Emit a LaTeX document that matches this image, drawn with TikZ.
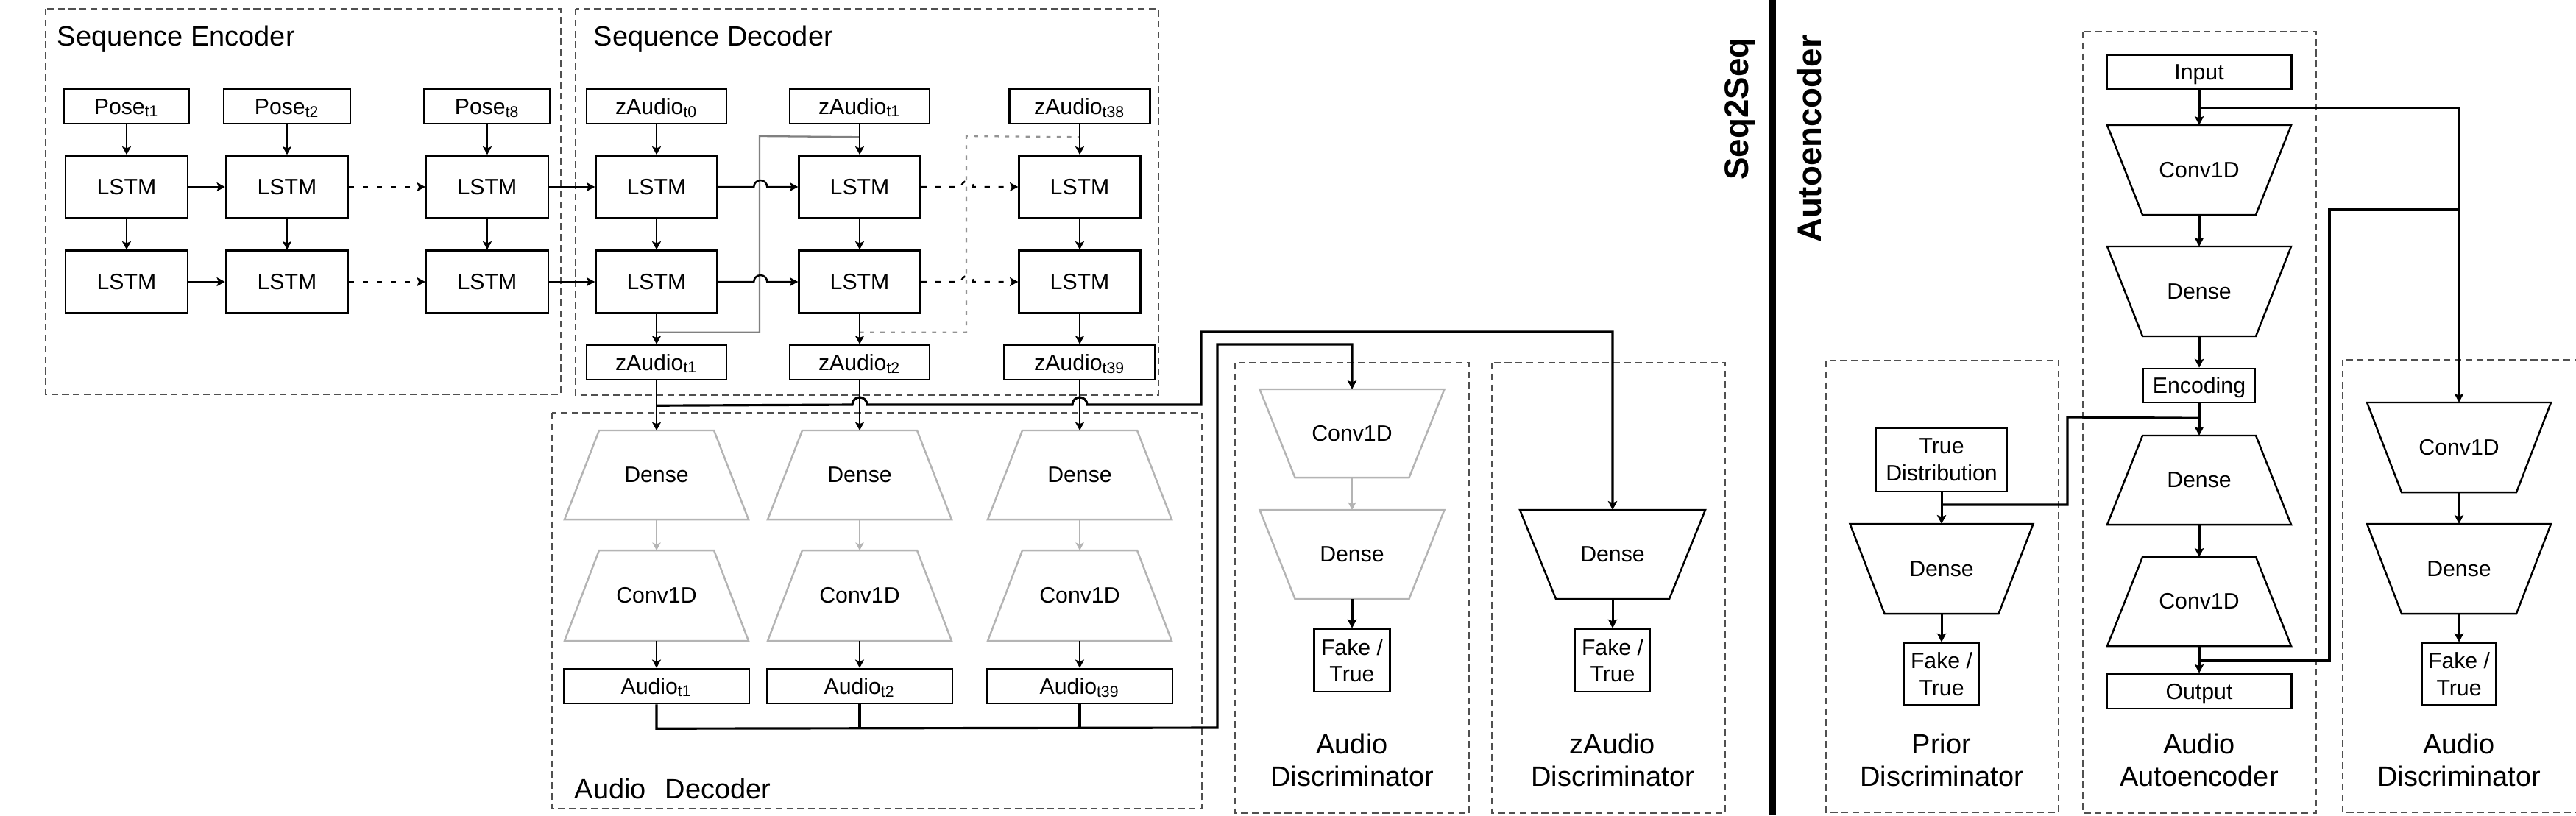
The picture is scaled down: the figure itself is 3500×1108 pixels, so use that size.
\documentclass[tikz,border=0pt]{standalone}
\usepackage{fontspec}
\setmainfont{Liberation Sans}
\usetikzlibrary{arrows.meta,calc}
\definecolor{dgray}{HTML}{505050}
\definecolor{mgray}{HTML}{808080}
\definecolor{lgray}{HTML}{B4B4B4}
\newcommand{\fsN}{\fontsize{8.6}{10.4}\selectfont}
\newcommand{\fsT}{\fontsize{10.8}{12.5}\selectfont}
\newcommand{\fsB}{\fontsize{13}{15}\selectfont\bfseries}
% name, cx, cy, half top width, half bottom width, half height, text, style
\newcommand{\trapz}[8]{%
  \draw[#8] ({#2-#4},{#3-#6}) -- ({#2+#4},{#3-#6}) -- ({#2+#5},{#3+#6}) -- ({#2-#5},{#3+#6}) -- cycle;
  \node[lbl] (#1) at (#2,#3) {#7};
  \coordinate (#1n) at (#2,{#3-#6});
  \coordinate (#1s) at (#2,{#3+#6});
}
\tikzset{
  box/.style={draw, line width=0.7pt, fill=white, inner sep=0pt, font=\fsN, text height=6.1pt, text depth=0pt},
  box2/.style={draw, line width=0.7pt, fill=white, inner sep=0pt, font=\fsN, align=center},
  sz/.style 2 args={minimum width=#1*0.01cm, minimum height=#2*0.01cm},
  lbl/.style={inner sep=0pt, font=\fsN},
  grp/.style={draw=dgray, line width=0.4pt, dash pattern=on 2.6pt off 1.6pt},
  ttl/.style={inner sep=0pt, font=\fsT, anchor=base west},
  dlbl/.style={inner sep=0pt, font=\fsT, align=center, anchor=north},
  ltrap/.style={draw=lgray, line width=0.7pt, fill=white},
  btrap/.style={draw=black, line width=0.7pt, fill=white},
  arr/.style={line width=0.7pt, -{Stealth[length=3.2pt,width=3.4pt,inset=0.7pt]}},
  arrd/.style={arr, dash pattern=on 2pt off 3.4pt},
  arr2/.style={line width=0.85pt, -{Stealth[length=3.4pt,width=3.5pt,inset=0.7pt]}},
  garr/.style={line width=0.6pt, draw=lgray, -{Stealth[length=3pt,width=3.2pt,inset=0.7pt,fill=lgray]}},
  gl/.style={line width=0.65pt, draw=mgray},
  gld/.style={line width=0.65pt, draw=mgray!85, dash pattern=on 1.6pt off 2.4pt},
  bus/.style={line width=0.9pt},
  busarr/.style={line width=0.9pt, -{Stealth[length=3.4pt,width=3.5pt,inset=0.7pt]}},
}
\begin{document}
\begin{tikzpicture}[x=0.01cm, y=-0.01cm]
\useasboundingbox (0,0) rectangle (3500,1108);

% ---------- group boxes ----------
\draw[grp] (62,12) rectangle (762,536);
\draw[grp] (782,12) rectangle (1574,537);
\draw[grp] (750,561) rectangle (1633,1099);
\draw[grp] (1678,493) rectangle (1996,1105);
\draw[grp] (2027,493) rectangle (2344,1105);
\draw[grp] (2481,490) rectangle (2797,1104);
\draw[grp] (2830,43) rectangle (3147,1105);
\draw[grp] (3183,489) rectangle (3520,1104);

\node[ttl] (tenc) at (77,62) {Sequence Encoder};
\node[ttl] (tdec) at (806,62) {Sequence Decoder};
\node[ttl] (tadec) at (780,1085) {Audio\hspace{0.68em}Decoder};

% ---------- Sequence Encoder ----------
\node[box, sz={170}{47}] (p1) at (172,144.5) {Pose\textsubscript{t1}};
\node[box, sz={172}{47}] (p2) at (390,144.5) {Pose\textsubscript{t2}};
\node[box, sz={171}{47}] (p3) at (662,144.5) {Pose\textsubscript{t8}};
\node[box, sz={166}{85}] (e11) at (172,254) {LSTM};
\node[box, sz={166}{85}] (e12) at (390,254) {LSTM};
\node[box, sz={166}{85}] (e13) at (662,254) {LSTM};
\node[box, sz={166}{85}] (e21) at (172,383) {LSTM};
\node[box, sz={166}{85}] (e22) at (390,383) {LSTM};
\node[box, sz={166}{85}] (e23) at (662,383) {LSTM};

\draw[arr] (p1.south) -- (e11.north);
\draw[arr] (p2.south) -- (e12.north);
\draw[arr] (p3.south) -- (e13.north);
\draw[arr] (e11.south) -- (e21.north);
\draw[arr] (e12.south) -- (e22.north);
\draw[arr] (e13.south) -- (e23.north);
\draw[arr] (e11.east) -- (e12.west);
\draw[arr] (e21.east) -- (e22.west);
\draw[arrd] (e12.east) -- (e13.west);
\draw[arrd] (e22.east) -- (e23.west);

% ---------- Sequence Decoder ----------
\node[box, sz={190}{47}] (zt1) at (892,144.5) {zAudio\textsubscript{t0}};
\node[box, sz={190}{47}] (zt2) at (1168,144.5) {zAudio\textsubscript{t1}};
\node[box, sz={191}{47}] (zt3) at (1467,144.5) {zAudio\textsubscript{t38}};
\node[box, sz={165}{85}] (d11) at (892,254) {LSTM};
\node[box, sz={165}{85}] (d12) at (1168,254) {LSTM};
\node[box, sz={165}{85}] (d13) at (1467,254) {LSTM};
\node[box, sz={165}{85}] (d21) at (892,383) {LSTM};
\node[box, sz={165}{85}] (d22) at (1168,383) {LSTM};
\node[box, sz={165}{85}] (d23) at (1467,383) {LSTM};
\node[box, sz={190}{47}] (zb1) at (892,492.5) {zAudio\textsubscript{t1}};
\node[box, sz={190}{47}] (zb2) at (1168,492.5) {zAudio\textsubscript{t2}};
\node[box, sz={205}{47}] (zb3) at (1467,492.5) {zAudio\textsubscript{t39}};

% feedback lines (gray)
\draw[gl] ($(d21.south)+(0,25)$) -| (1032,185) -- ($(zt2.south)+(0,17)$);
\draw[gld] ($(d22.south)+(0,25)$) -| (1313,185) -- ($(zt3.south)+(0,17)$);

\draw[arr] (e13.east) -- (d11.west);
\draw[arr] (e23.east) -- (d21.west);
\draw[arr] (zt1.south) -- (d11.north);
\draw[arr] (zt2.south) -- (d12.north);
\draw[arr] (zt3.south) -- (d13.north);
\draw[arr] (d11.south) -- (d21.north);
\draw[arr] (d12.south) -- (d22.north);
\draw[arr] (d13.south) -- (d23.north);
\draw[arr] (d21.south) -- (zb1.north);
\draw[arr] (d22.south) -- (zb2.north);
\draw[arr] (d23.south) -- (zb3.north);
\draw[arr] (d11.east) -- ++(48.5,0) arc[start angle=180,end angle=0,radius=0.09cm] -- (d12.west);
\draw[arr] (d21.east) -- ++(48.5,0) arc[start angle=180,end angle=0,radius=0.09cm] -- (d22.west);
\draw[arrd] (d12.east) -- ++(54.5,0) arc[start angle=180,end angle=0,radius=0.08cm] -- (d13.west);
\draw[arrd] (d22.east) -- ++(54.5,0) arc[start angle=180,end angle=0,radius=0.08cm] -- (d23.west);

% ---------- Audio Decoder ----------
\trapz{ad1}{892}{645.5}{78}{125}{60.5}{Dense}{ltrap}
\trapz{ad2}{1168}{645.5}{78}{125}{60.5}{Dense}{ltrap}
\trapz{ad3}{1467}{645.5}{78}{125}{60.5}{Dense}{ltrap}
\trapz{ac1}{892}{809.5}{78}{125}{61.5}{Conv1D}{ltrap}
\trapz{ac2}{1168}{809.5}{78}{125}{61.5}{Conv1D}{ltrap}
\trapz{ac3}{1467}{809.5}{78}{125}{61.5}{Conv1D}{ltrap}
\node[box, sz={252}{47}] (au1) at (892,932.5) {Audio\textsubscript{t1}};
\node[box, sz={252}{47}] (au2) at (1168,932.5) {Audio\textsubscript{t2}};
\node[box, sz={252}{47}] (au3) at (1467,932.5) {Audio\textsubscript{t39}};

\draw[arr] (zb1.south) -- (ad1n);
\draw[arr] (zb2.south) -- (ad2n);
\draw[arr] (zb3.south) -- (ad3n);
\draw[garr] (ad1s) -- (ac1n);
\draw[garr] (ad2s) -- (ac2n);
\draw[garr] (ad3s) -- (ac3n);
\draw[arr] (ac1s) -- (au1.north);
\draw[arr] (ac2s) -- (au2.north);
\draw[arr] (ac3s) -- (au3.north);

% ---------- Audio Discriminator ----------
\trapz{dc}{1837}{589}{125.5}{77.5}{60}{Conv1D}{ltrap}
\trapz{dd}{1837}{753.5}{125.5}{77.5}{60.5}{Dense}{ltrap}
\node[box2, sz={103}{85}] (dft) at (1837,897.5) {Fake /\\True};
\node[dlbl] (dlab) at (1837,996) {Audio\\Discriminator};
\draw[garr] (dcs) -- (ddn);
\draw[arr2] (dds) -- (dft.north);

% ---------- zAudio Discriminator ----------
\trapz{zd}{2191}{753.5}{126}{77}{60.5}{Dense}{btrap}
\node[box2, sz={102}{85}] (zft) at (2191,897.5) {Fake /\\True};
\node[dlbl] (zlab) at (2191,996) {zAudio\\Discriminator};
\draw[arr2] (zds) -- (zft.north);

% ---------- buses Seq2Seq ----------
\coordinate (j1) at ($(zb1.south)+(0,34)$);
\draw[busarr] (j1) -- (1158,550) arc[start angle=180,end angle=0,radius=0.1cm] -- (1457,550) arc[start angle=180,end angle=0,radius=0.1cm] -- (1632,550) -- (1632,451) -| (zdn);
\coordinate (j2) at ($(au1.south)+(0,33)$);
\draw[busarr] (au1.south) -- (j2) -- (1654,989) -- (1654,468) -| (dcn);
\draw[bus] (au2.south) -- (au2.south |- j2);
\draw[bus] (au3.south) -- (au3.south |- j2);

% ---------- divider and headings ----------
\coordinate (dv1) at (2408,0);
\coordinate (dv2) at (2408,1108);
\draw[line width=2.6pt] (dv1) -- (dv2);
\node[rotate=90, font=\fsB, inner sep=0pt] (s2s) at (2364,148) {Seq2Seq};
\node[rotate=90, font=\fsB, inner sep=0pt] (aeh) at (2458,189) {Autoencoder};

% ---------- Prior Discriminator ----------
\node[box2, sz={178}{86}] (td) at (2638,625) {True\\Distribution};
\trapz{pd}{2638}{773}{124.5}{77.5}{61}{Dense}{btrap}
\node[box2, sz={102}{84}] (pft) at (2638,916) {Fake /\\True};
\node[dlbl] (plab) at (2638,996) {Prior\\Discriminator};
\draw[arr2] (td.south) -- (pdn);
\draw[arr2] (pds) -- (pft.north);

% ---------- Audio Autoencoder ----------
\node[box, sz={251}{46}] (inp) at (2988,98) {Input};
\trapz{a1}{2988}{231}{125}{77}{61}{Conv1D}{btrap}
\trapz{a2}{2988}{396}{125}{77}{61}{Dense}{btrap}
\node[box, sz={152}{46}] (enc) at (2988,524) {Encoding};
\trapz{a3}{2988}{652.5}{77}{125}{60.5}{Dense}{btrap}
\trapz{a4}{2988}{817.5}{77}{125}{60.5}{Conv1D}{btrap}
\node[box, sz={251}{47}] (out) at (2988,939.5) {Output};
\node[dlbl] (alab) at (2988,996) {Audio\\Autoencoder};
\draw[arr2] (inp.south) -- (a1n);
\draw[arr2] (a1s) -- (a2n);
\draw[arr2] (a2s) -- (enc.north);
\draw[arr2] (enc.south) -- (a3n);
\draw[arr2] (a3s) -- (a4n);
\draw[arr2] (a4s) -- (out.north);

% ---------- right Audio Discriminator ----------
\trapz{r1}{3341}{608}{125}{78}{61}{Conv1D}{btrap}
\trapz{r2}{3341}{773}{125}{78}{61}{Dense}{btrap}
\node[box2, sz={100}{84}] (rft) at (3341,916) {Fake /\\True};
\node[dlbl] (rlab) at (3341,996) {Audio\\Discriminator};
\draw[arr2] (r1s) -- (r2n);
\draw[arr2] (r2s) -- (rft.north);

% ---------- autoencoder buses ----------
\coordinate (b1) at ($(inp.south)+(0,24)$);
\draw[busarr] (b1) -| (r1n);
\coordinate (b2) at ($(enc.south)+(0,20)$);
\draw[bus] (b2) -- (2809,567) |- (2638,686);
\coordinate (b3) at ($(a4s)+(0,20)$);
\draw[bus] (b3) -| (3165,285) -- (3341,285);
\end{tikzpicture}
\end{document}
